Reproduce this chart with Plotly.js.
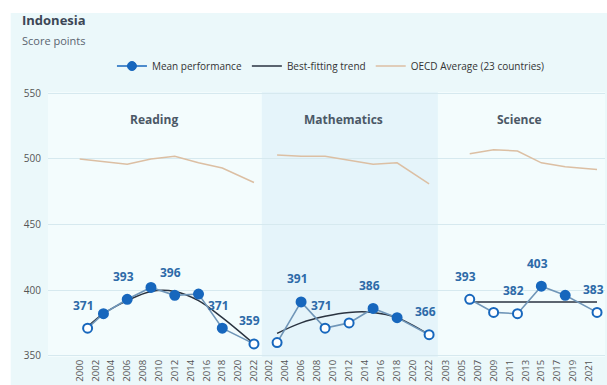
<!DOCTYPE html>
<html>
<head>
<meta charset="utf-8">
<script src="https://cdn.plot.ly/plotly-3.0.1.min.js"></script>
<style>
html,body{margin:0;padding:0;background:#ffffff;}
#chart{width:607px;height:385px;}
</style>
</head>
<body>
<div id="chart"></div>
<script>
// ---- data ----
const readingYears = [2001, 2003, 2006, 2009, 2012, 2015, 2018, 2022];
const readingMean = [371, 382, 393, 402, 396, 397, 371, 359];
const readingFilled = [false, true, true, true, true, true, true, false];
const readingTrend = [372, 382, 392, 399, 399, 392, 379, 359];
const readingOecdYears = [2000, 2003, 2006, 2009, 2012, 2015, 2018, 2022];
const readingOecd = [500, 498, 496, 500, 502, 497, 493, 482];
const readingLabelIdx = [0, 2, 4, 6, 7];

const mathYears = [2003, 2006, 2009, 2012, 2015, 2018, 2022];
const mathMean = [360, 391, 371, 375, 386, 379, 366];
const mathFilled = [false, true, false, false, true, true, false];
const mathTrend = [367, 375, 380, 383, 383, 379, 366];
const mathOecd = [503, 502, 502, 499, 496, 497, 481];
const mathLabelIdx = [1, 2, 4, 6];

const scienceYears = [2006, 2009, 2012, 2015, 2018, 2022];
const scienceMean = [393, 383, 382, 403, 396, 383];
const scienceFilled = [false, false, false, true, true, false];
const scienceTrendYears = [2006, 2022];
const scienceTrend = [391, 391];
const scienceOecd = [504, 507, 506, 497, 494, 492];
const scienceLabelIdx = [0, 2, 3, 5];

const readingTicks = [2000, 2002, 2004, 2006, 2008, 2010, 2012, 2014, 2016, 2018, 2020, 2022];
const mathTicks = [2002, 2004, 2006, 2008, 2010, 2012, 2014, 2016, 2018, 2020, 2022];
const scienceTicks = [2003, 2005, 2007, 2009, 2011, 2013, 2015, 2017, 2019, 2021];
const yTicks = [350, 400, 450, 500, 550];

const panelNames = ['Reading', 'Mathematics', 'Science'];
const legendNames = ['Mean performance', 'Best-fitting trend', 'OECD Average (23 countries)'];

// ---- styles ----
const BLUE = '#1767bd';
const MEANLINE = '#7096b8';
const TREND = '#2a3340';
const OECD = '#dcbfa3';
const LABEL = '#2d6aa8';
const FONT = '"Open Sans", "Noto Sans", sans-serif';

function meanTrace(xs, ys, filled, xa) {
  return {
    x: xs, y: ys, xaxis: xa, yaxis: 'y', type: 'scatter', mode: 'lines+markers',
    line: {color: MEANLINE, width: 1.6},
    marker: {size: 9, color: filled.map(f => f ? BLUE : '#ffffff'),
             line: {color: BLUE, width: 2}},
    showlegend: false, hoverinfo: 'x+y'
  };
}
function lineTrace(xs, ys, color, xa, shape) {
  return {
    x: xs, y: ys, xaxis: xa, yaxis: 'y', type: 'scatter', mode: 'lines',
    line: {color: color, width: 1.5, shape: shape || 'linear', smoothing: 1},
    showlegend: false, hoverinfo: 'x+y'
  };
}

const data = [
  lineTrace(readingOecdYears, readingOecd, OECD, 'x'),
  lineTrace(readingYears, readingTrend, TREND, 'x', 'spline'),
  meanTrace(readingYears, readingMean, readingFilled, 'x'),
  lineTrace(mathYears, mathOecd, OECD, 'x2'),
  lineTrace(mathYears, mathTrend, TREND, 'x2', 'spline'),
  meanTrace(mathYears, mathMean, mathFilled, 'x2'),
  lineTrace(scienceYears, scienceOecd, OECD, 'x3'),
  lineTrace(scienceTrendYears, scienceTrend, TREND, 'x3'),
  meanTrace(scienceYears, scienceMean, scienceFilled, 'x3'),
  // legend entries
  {x: [null], y: [null], xaxis: 'x', yaxis: 'y', type: 'scatter', mode: 'lines+markers',
   name: legendNames[0], line: {color: BLUE, width: 1.6},
   marker: {size: 9, color: BLUE, line: {color: BLUE, width: 1}}, legendrank: 1},
  {x: [null], y: [null], xaxis: 'x', yaxis: 'y', type: 'scatter', mode: 'lines',
   name: legendNames[1], line: {color: TREND, width: 1.5}, legendrank: 2},
  {x: [null], y: [null], xaxis: 'x', yaxis: 'y', type: 'scatter', mode: 'lines',
   name: legendNames[2], line: {color: OECD, width: 1.5}, legendrank: 3}
];

const annotations = [];
function addLabels(xs, ys, idx, xa) {
  idx.forEach(i => {
    annotations.push({
      x: xs[i], y: ys[i], xref: xa, yref: 'y', text: String(ys[i]),
      showarrow: false, yshift: 23, xshift: -4,
      font: {family: FONT, size: 12, color: LABEL, weight: 'bold'}
    });
  });
}
addLabels(readingYears, readingMean, readingLabelIdx, 'x');
addLabels(mathYears, mathMean, mathLabelIdx, 'x2');
addLabels(scienceYears, scienceMean, scienceLabelIdx, 'x3');

const panelTitleX = [0.19, 0.53, 0.846];
panelNames.forEach((n, i) => {
  annotations.push({
    x: panelTitleX[i], y: 0.897, xref: 'paper', yref: 'paper', text: '<b>' + n + '</b>',
    showarrow: false, xanchor: 'center', yanchor: 'middle',
    font: {family: FONT, size: 12, color: '#4b5866'}
  });
});
annotations.push({
  x: -0.05, y: 1.272, xref: 'paper', yref: 'paper', text: '<b>Indonesia</b>',
  showarrow: false, xanchor: 'left', yanchor: 'middle',
  font: {family: FONT, size: 13, color: '#3c4756'}
});
annotations.push({
  x: -0.05, y: 1.196, xref: 'paper', yref: 'paper', text: 'Score points',
  showarrow: false, xanchor: 'left', yanchor: 'middle',
  font: {family: FONT, size: 11, color: '#5a6470'}
});

const xBase = {
  showgrid: false, zeroline: false, showline: false, ticks: '',
  tickangle: -90, tickfont: {family: FONT, size: 9.5, color: '#555'},
  tickmode: 'array', anchor: 'y', fixedrange: true
};

const layout = {
  width: 607, height: 385,
  margin: {l: 48, r: 2, t: 92, b: 28},
  paper_bgcolor: '#ffffff',
  plot_bgcolor: 'rgba(0,0,0,0)',
  font: {family: FONT, color: '#444'},
  showlegend: true,
  legend: {orientation: 'h', x: 0.508, xanchor: 'center', y: 1.098, yanchor: 'middle',
           font: {family: FONT, size: 10, color: '#333'}, bgcolor: 'rgba(0,0,0,0)',
           traceorder: 'normal'},
  xaxis: Object.assign({}, xBase, {domain: [0, 0.384], range: [1996, 2023],
           tickvals: readingTicks, ticktext: readingTicks.map(String)}),
  xaxis2: Object.assign({}, xBase, {domain: [0.384, 0.70], range: [2001.1, 2023.1],
           tickvals: mathTicks, ticktext: mathTicks.map(String)}),
  xaxis3: Object.assign({}, xBase, {domain: [0.70, 1], range: [2002, 2023],
           tickvals: scienceTicks, ticktext: scienceTicks.map(String)}),
  yaxis: {range: [349, 551], tickmode: 'array', tickvals: yTicks, ticktext: yTicks.map(String),
          showgrid: true, gridcolor: '#d6e9ef', gridwidth: 1, zeroline: false, showline: false,
          ticks: '', ticklabelstandoff: 6, tickfont: {family: FONT, size: 10, color: '#555'},
          anchor: 'x', fixedrange: true},
  shapes: [
    {type: 'rect', xref: 'paper', yref: 'paper', x0: -0.067, x1: 1.05, y0: -0.2, y1: 1.298,
     fillcolor: '#ebf8fa', line: {width: 0}, layer: 'below'},
    {type: 'rect', xref: 'x domain', yref: 'y domain', x0: 0, x1: 1, y0: 0, y1: 1,
     fillcolor: '#f3fcfd', line: {width: 0}, layer: 'below'},
    {type: 'rect', xref: 'x2 domain', yref: 'y domain', x0: 0, x1: 1, y0: 0, y1: 1,
     fillcolor: '#e5f4fa', line: {width: 0}, layer: 'below'},
    {type: 'rect', xref: 'x3 domain', yref: 'y domain', x0: 0, x1: 1, y0: 0, y1: 1,
     fillcolor: '#f3fcfd', line: {width: 0}, layer: 'below'}
  ],
  annotations: annotations
};

Plotly.newPlot('chart', data, layout, {displayModeBar: false, staticPlot: true});
</script>
</body>
</html>
